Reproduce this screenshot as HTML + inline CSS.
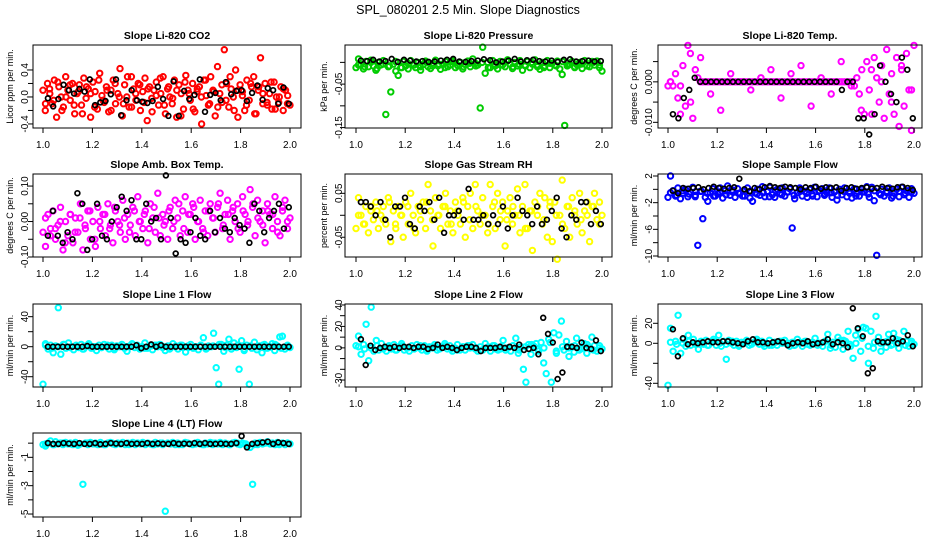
<!DOCTYPE html>
<html><head><meta charset="utf-8"><style>
html,body{margin:0;padding:0;background:#fff}
svg{display:block;font-family:"Liberation Sans",sans-serif}
</style></head><body>
<svg id="chart" width="936" height="540" viewBox="0 0 936 540" xmlns="http://www.w3.org/2000/svg">
<rect width="936" height="540" fill="#fff"/>
<text x="468" y="14" text-anchor="middle" font-size="12.5">SPL_080201  2.5 Min. Slope Diagnostics</text>
</svg>
<script>
// ---- data ----
const xTicks=[1.0,1.2,1.4,1.6,1.8,2.0];
const xTickLabels=["1.0","1.2","1.4","1.6","1.8","2.0"];

const co2Vals=[0.1,-0.2,0.2,0.05,-0.1,0.25,-0.3,0.15,0.0,-0.15,0.3,0.1,-0.05,0.2,-0.25,0.05,0.18,-0.12,0.28,-0.02,0.12,-0.3,0.22,0.08,-0.18,0.35,0.02,-0.08,0.15,-0.22,0.1,0.25,-0.1,0.05,0.42,-0.28,0.18,0.0,-0.15,0.3,0.12,-0.05,0.2,-0.2,0.08,0.28,-0.35,0.15,-0.02,0.1,0.22,-0.12,0.05,0.3,-0.25,0.12,0.0,-0.1,0.25,-0.3,0.18,0.05,-0.18,0.32,0.1,-0.05,0.2,-0.22,0.08,0.15,-0.4,0.25,0.02,-0.12,0.3,0.1,-0.28,0.45,0.05,-0.08,0.7,0.2,-0.15,0.12,0.0,0.4,-0.3,0.18,0.08,-0.2,0.25,-0.05,0.15,0.3,-0.25,0.1,0.58,-0.1,0.2,-0.12,0.05,-0.18,0.22,0.0,-0.08,0.15,-0.2,0.1,0.02,-0.12];
const co2Vals2=[-0.1,0.12,-0.05,0.22,-0.2,0.0,0.18,-0.12,0.08,-0.25,0.15,0.05,-0.15,0.25,-0.05,0.1,-0.2,0.2,0.0,-0.1,0.3,-0.15,0.05,0.18,-0.08,0.12,-0.22,0.02,0.28,-0.12,0.15,-0.02,0.1,-0.28,0.22,0.05,-0.18,0.12,0.0,0.25,-0.1,0.08,-0.15,0.18,-0.05,0.3,-0.2,0.1,0.02,-0.12,0.2,-0.25,0.15,0.05,-0.08,0.22,-0.18,0.0,0.12,-0.1];
const co2Blk=[-0.02,-0.14,-0.03,0.18,0.1,0.05,0.12,0.08,0.26,-0.12,-0.08,-0.06,0.04,0.26,-0.27,-0.05,0.1,-0.05,-0.07,-0.09,-0.06,0.15,-0.03,-0.28,0.23,-0.28,0.09,-0.03,0.03,0.26,-0.22,0.03,0.06,-0.05,0.22,0.04,0.09,0.1,-0.06,0.06,0.17,-0.04,0.13,0.1,-0.1,0.14,-0.1];

const presVals=[-0.012,0.008,-0.005,-0.015,0.002,-0.01,0.005,-0.008,-0.018,0.0,-0.006,0.004,-0.12,-0.01,-0.068,-0.004,-0.02,-0.03,-0.012,0.002,-0.008,-0.015,0.004,-0.006,-0.012,0.0,-0.018,-0.005,0.003,-0.01,-0.014,-0.002,0.005,-0.008,-0.016,-0.004,0.002,-0.01,-0.006,0.004,-0.012,-0.008,0.0,-0.015,-0.005,0.003,-0.01,0.008,-0.002,-0.006,-0.105,0.035,-0.025,0.0,-0.012,0.004,-0.008,-0.015,0.002,-0.006,-0.01,0.006,-0.004,-0.014,0.0,-0.008,0.004,-0.018,-0.006,0.002,-0.012,-0.004,0.006,-0.01,-0.016,0.0,-0.008,0.004,-0.012,-0.002,-0.006,0.003,-0.015,-0.028,-0.145,-0.008,-0.004,0.002,-0.012,-0.006,0.0,-0.014,0.004,-0.008,-0.01,0.002,-0.006,0.003,-0.012,-0.02];
const presVals2=[-0.006,-0.01,0.0,-0.014,-0.004,-0.008,0.002,-0.012,-0.002,-0.006,-0.01,0.0,-0.008,-0.004,-0.012,0.002,-0.006,-0.01,-0.002,-0.008,0.0,-0.012,-0.004,-0.006,0.002,-0.01,-0.004,-0.008,0.0,-0.006,-0.012,-0.002,-0.008,0.002,-0.006,-0.01,-0.004,-0.008,0.0,-0.006];
const presBlk=[0.004,0.003,0.006,0.002,0.003,0.008,0.001,0.006,0.004,0.002,0.003,0.001,0.002,0.004,0.006,0.008,0.002,0.001,0.003,0.004,0.007,0.005,0.0,0.002,0.004,0.008,0.002,0.005,0.006,0.003,0.002,0.004,0.001,0.006,0.007,0.002,0.003,0.004,0.002,0.003];

const tempVals=[-0.001,0.0,-0.001,0.002,-0.004,-0.008,0.004,-0.006,0.009,0.007,-0.009,0.003,0.001,0.0,0.0,0.0,0.0,0.0,0.0,0.0,0.0,0.0,0.0,0.0,0.0,0.0,0.0,0.0,0.0,0.0,0.0,0.0,0.0,0.0,0.0,0.0,0.0,0.0,0.0,0.0,0.0,0.0,0.0,0.0,0.0,0.0,0.0,0.0,0.0,0.0,0.0,0.0,0.0,0.0,0.0,0.0,0.0,0.0,0.0,0.0,0.0,0.0,0.0,0.0,0.0,0.0,0.0,0.0,0.0,0.0,0.0,0.0,0.0,0.0,0.0,-0.001,0.001,-0.003,0.003,-0.008,0.005,-0.002,-0.008,0.006,0.001,-0.005,0.004,-0.009,0.008,-0.003,0.002,-0.008,0.006,-0.011,0.003,-0.006,0.007,-0.002,-0.012,0.009];
const tempVals2=[0.0,-0.001,-0.005,0.006,-0.003,-0.007,0.002,0.0,-0.002,0.001,0.003,-0.004,0.002,0.004,-0.006,0.001,-0.003,0.005,-0.001,-0.007,0.003,0.0,-0.005,0.004,-0.002];
const tempBlk=[-0.008,-0.009,-0.004,-0.002,0.001,0.0,0.0,0.0,0.0,0.0,0.0,0.0,0.0,0.0,0.0,0.0,0.0,0.0,0.0,0.0,0.0,0.0,0.0,0.0,0.0,0.0,0.0,0.0,0.0,0.0,0.0,-0.002,0.0,0.0,-0.009,-0.009,-0.013,-0.008,0.004,0.0,-0.003,-0.005,0.006,0.003,-0.009];

const ambVals=[-0.03,-0.07,0.02,-0.02,0.03,-0.05,-0.01,0.04,-0.08,0.0,-0.04,0.02,-0.06,0.01,-0.03,0.05,-0.08,-0.02,0.03,-0.05,0.0,-0.07,0.04,-0.02,0.02,-0.04,0.05,-0.01,-0.06,0.03,0.0,-0.03,0.06,-0.05,0.02,-0.01,0.04,-0.04,0.07,0.0,-0.02,0.03,-0.06,0.05,0.01,-0.03,0.08,-0.04,0.02,0.0,-0.05,0.04,-0.02,0.06,0.01,-0.04,0.03,0.07,-0.03,0.02,0.05,-0.05,0.0,0.06,-0.02,0.03,-0.04,0.05,0.01,-0.03,0.04,0.08,-0.02,0.02,0.06,-0.05,0.03,0.0,0.05,-0.03,0.07,0.02,-0.01,0.09,0.04,-0.04,0.06,0.0,0.03,-0.06,0.05,0.02,-0.02,0.07,0.0,-0.04,0.03,0.06,-0.02,0.01];
const ambVals2=[0.01,-0.04,-0.02,0.0,-0.06,0.02,-0.03,0.01,-0.01,0.03,-0.05,0.0,0.02,-0.02,0.04,-0.01,0.01,-0.03,0.03,0.0,0.02,-0.02,0.04,0.01,-0.01,0.03,0.0,0.05,-0.02,0.02,0.04,0.0,-0.03,0.03,0.01,0.05,-0.01,0.02,0.04,-0.02,0.03,0.0,0.05,0.01,-0.01,0.03,0.02,-0.03,0.04,0.0];
const ambBlk=[-0.04,0.03,-0.04,-0.06,-0.03,-0.05,0.08,0.05,-0.08,-0.05,0.05,-0.04,-0.05,0.0,0.04,0.07,0.03,0.06,-0.05,-0.05,0.05,0.0,0.01,-0.05,0.13,0.01,-0.09,-0.05,-0.06,-0.03,0.01,-0.04,-0.05,0.03,-0.03,0.01,-0.02,-0.03,0.01,-0.01,-0.02,-0.06,0.05,0.03,-0.03,0.01,0.03,0.05,-0.02,0.04];

const rhVals=[-0.03,0.04,0.0,-0.02,0.02,-0.04,0.01,-0.01,0.03,-0.03,0.0,0.02,-0.02,0.04,-0.06,0.01,-0.03,0.02,0.0,-0.05,0.03,-0.02,0.05,0.0,-0.04,0.02,-0.01,0.03,-0.03,0.07,0.01,-0.07,0.04,0.0,-0.03,0.02,0.05,-0.02,0.01,-0.04,0.03,0.0,-0.02,0.04,-0.05,0.02,0.05,-0.03,0.07,0.01,-0.02,0.04,0.0,-0.04,0.07,0.02,-0.03,0.05,-0.01,0.03,-0.07,0.01,0.04,-0.02,0.0,0.06,-0.04,0.02,0.07,-0.03,0.01,-0.08,0.03,0.0,0.05,-0.02,0.04,-0.05,0.02,-0.06,0.03,-0.1,0.0,0.08,-0.03,0.02,-0.05,0.04,0.0,-0.02,0.05,-0.04,0.01,0.03,-0.06,0.02,0.05,-0.01,0.03,0.0];
const rhVals2=[0.0,-0.02,0.02,0.01,-0.01,0.03,-0.02,0.0,0.02,-0.03,0.01,0.03,-0.01,0.0,0.02,-0.02,0.01,0.03,-0.01,0.02,0.0,-0.02,0.03,0.01,-0.01,0.02,0.0,-0.03,0.01,0.02,-0.01,0.03,0.0,-0.02,0.02,0.01,-0.01,0.0,0.02,-0.02];
const rhBlk=[0.03,0.03,0.02,0.0,0.03,-0.01,-0.05,0.02,0.02,0.04,-0.02,-0.03,0.02,0.01,0.03,-0.01,0.04,-0.04,0.0,0.0,0.01,-0.01,0.06,-0.01,-0.01,0.0,-0.02,0.0,-0.02,0.02,-0.03,0.0,0.04,0.01,0.0,-0.02,0.02,-0.02,-0.01,0.01,0.04,-0.03,-0.05,0.0,-0.01,0.03,0.03,-0.02,0.01,-0.02];

const flowVals=[-1.2,2.0,-0.2,-1.0,0.2,-1.4,-0.6,0.0,-1.1,-0.4,0.3,-0.9,-8.4,-0.3,-4.4,-1.2,-1.8,-0.5,0.1,-1.0,-0.7,0.2,-1.3,-0.2,0.5,-0.9,-0.4,-1.2,0.1,-0.6,-1.0,-0.2,0.2,-1.3,-1.8,-0.5,0.0,-0.9,0.4,-1.1,-0.3,0.3,-0.8,-1.2,0.0,-0.6,0.2,-1.0,-0.4,0.1,-5.8,-1.4,-0.5,0.2,-1.0,-0.3,-1.2,0.0,-0.7,0.3,-1.1,-0.2,0.1,-0.9,-0.5,0.2,-1.2,-0.4,-1.6,0.0,-0.8,0.2,-1.1,-0.3,-1.3,0.1,-0.6,-1.0,0.0,-0.4,0.4,-1.2,0.3,-1.7,-9.9,-0.6,0.0,-1.0,-0.3,0.2,-1.3,-0.5,0.0,-1.1,0.3,-0.8,-0.2,-1.2,0.1,-0.6];
const flowVals2=[-0.5,-0.9,-0.2,-0.7,-1.1,-0.3,-0.6,-1.0,-0.4,-0.8,-0.1,-0.6,-1.0,-0.3,-0.7,-0.5,-1.1,-0.2,-0.8,-0.4,-0.9,-0.3,-0.6,-1.0,-0.2,-0.7,-0.5,-0.9,-0.3,-0.6,-1.0,-0.4,-0.7,-0.2,-0.8,-0.5,-1.0,-0.3,-0.6,-0.4];
const flowBlk=[-0.2,-0.6,0.2,0.1,0.2,0.3,0.0,0.2,0.4,0.2,0.1,0.2,0.3,1.6,0.0,-0.3,0.2,0.0,0.3,0.5,0.3,0.2,0.4,0.3,0.2,0.0,0.3,0.2,0.4,0.1,0.3,0.2,0.3,-0.2,0.2,0.3,0.1,0.2,0.3,0.1,0.2,0.4,0.2,0.1,0.3,0.4,0.2,-0.1];

const l1Vals=[-50,4,-3,2,-8,1,52,-10,3,-2,5,0,-4,2,-1,3,-3,1,4,-2,0,-5,2,-1,3,0,-3,2,-4,1,0,3,-2,-6,1,4,-1,2,-3,0,5,-2,1,-4,2,0,3,-1,-5,1,-2,4,0,-3,2,-1,-7,1,3,-2,0,-4,2,12,-3,1,0,18,-28,-50,3,-6,2,10,-3,5,-1,-30,8,-5,2,-50,-2,6,-4,1,-8,3,-2,0,4,-5,1,13,14,-3,2,-1];
const l1Vals2=[2,-2,0,3,-1,1,-3,2,0,-1,2,-2,1,0,3,-1,-2,1,2,0,-3,1,2,-1,0,2,-2,1,3,-1,0,2,-3,1,0,2,-1,3,-2,0];
const l1Blk=[0,0,0,0,0,0,0,0,1,0,0,0,0,0,0,0,0,0,2,-2,0,3,0,2,0,0,0,0,0,0,0,0,0,0,0,0,0,0,0,0,0,0,0,0,0,0,0,0,0,0];

const l2Vals=[2,11,-6,3,22,-12,38,-3,7,-2,4,0,-3,2,-1,3,-2,1,4,-2,0,-3,2,-1,3,0,-2,2,-3,1,0,3,-2,-1,1,4,-1,2,-3,0,3,-2,1,-2,2,0,3,-1,-3,1,-2,4,0,-3,2,-1,-2,1,7,-2,0,-3,2,9,-5,1,-20,-32,3,-6,2,4,-3,5,-14,-24,8,-32,14,-5,12,25,-2,6,-8,1,-4,9,-2,0,4,-5,1,10,2,-3,2,-1];
const l2Vals2=[1,-1,0,2,-1,1,-2,2,0,-1,2,-2,1,0,2,-1,-2,1,2,0,-2,1,2,-1,0,2,-2,1,3,-1,0,5,-3,1,0,2,-1,3,-2,0];
const l2Blk=[8,-16,2,-2,0,1,0,1,0,1,1,0,1,1,-1,0,3,0,1,0,-2,0,1,1,0,-3,0,0,0,1,0,1,0,3,-2,-1,0,-6,28,13,5,-29,-23,1,1,0,5,0,-1,7,-3];

const l3Vals=[-42,15,-8,2,28,-10,4,-3,8,-2,4,0,-6,2,-1,3,-2,1,4,-2,8,-3,2,-16,3,0,-2,2,-3,1,0,3,-2,-1,1,4,-1,2,-3,0,3,-2,1,-2,2,0,3,-1,-3,1,-2,4,0,-3,2,-1,-2,1,5,-2,0,-3,2,9,-5,1,-4,6,3,-6,2,12,-3,-15,8,14,-8,16,15,-20,12,-5,27,6,-8,1,-4,9,-2,10,4,-5,1,12,2,-3,2,-1];
const l3Vals2=[1,-1,0,2,-1,1,-2,2,0,-1,2,-2,1,0,2,-1,-2,1,2,0,-2,1,2,-1,0,2,-2,1,3,-1,0,5,-3,1,0,2,-1,3,-2,0];
const l3Blk=[14,-13,5,-1,1,0,1,2,1,1,2,2,1,0,-1,2,4,1,1,0,1,2,1,-2,0,1,0,2,-1,0,1,4,-1,1,0,-4,35,15,7,-30,-25,2,1,1,5,0,2,8,-3];

const l4Vals=[-0.1,-0.2,0.0,0.15,-0.1,0.1,-0.05,0.0,-0.1,0.05,-0.05,0.0,-0.1,0.05,-0.15,-0.05,-2.9,0.0,-0.1,0.05,-0.05,0.0,-0.1,0.05,-0.05,-0.1,0.0,0.05,-0.05,-0.1,0.0,-0.05,0.05,-0.1,0.0,-0.05,0.05,-0.1,0.0,-0.05,0.05,-0.1,0.0,-0.05,-0.1,0.05,-0.05,0.0,-0.1,-4.8,0.0,-0.05,0.05,-0.1,0.0,-0.05,-0.1,0.05,0.0,-0.05,-0.1,0.0,0.05,-0.05,-0.1,0.0,-0.05,0.05,-0.1,0.0,-0.05,0.05,-0.1,0.0,-0.05,-0.1,0.0,0.05,-0.05,-0.1,0.0,-0.05,-0.2,-0.3,-2.9,0.0,-0.1,0.05,-0.05,0.0,0.1,-0.05,0.0,-0.1,0.05,-0.05,0.0,-0.1,0.0,-0.05];
const l4Vals2=[-0.05,-0.1,0.0,-0.05,-0.1,0.0,-0.05,-0.1,0.0,-0.05,-0.1,0.0,-0.05,-0.1,0.0,-0.05,-0.1,0.0,-0.05,-0.1,0.0,-0.05,-0.1,0.0,-0.05,-0.1,0.0,-0.05,-0.1,0.0];
const l4Blk=[0,-0.05,-0.05,0,-0.03,-0.05,0,-0.05,-0.05,0,-0.08,-0.05,0,-0.03,-0.05,0,-0.05,-0.03,-0.05,0,-0.05,-0.02,-0.05,-0.05,0,-0.05,-0.03,-0.05,0,-0.05,0,-0.05,-0.05,-0.03,-0.05,-0.05,0,0.5,-0.3,-0.05,0,0.05,0.1,-0.05,0.05,0,-0.05];

// ---- layout ----
const COLS=[{x0:33,x1:301,a:43,b:290,yl:10,tl:25},{x0:345,x1:612,a:356,b:602,yl:324,tl:339},{x0:658,x1:922,a:668,b:914,yl:634,tl:649}];
const ROWS=[{y0:45,y1:128},{y0:174,y1:257},{y0:304,y1:387},{y0:433,y1:517}];
const panels=[
 {id:'co2',title:'Slope Li-820 CO2',ylab:'Licor ppm per min.',col:'#ff0000',v:co2Vals,v2:co2Vals2,k:co2Blk,r:0,c:0,ymin:-0.46,ymax:0.77,ticks:[-0.4,-0.2,0,0.2,0.4],labs:{'-0.4':'-0.4','0':'0.0','0.4':'0.4'}},
 {id:'pressure',title:'Slope Li-820 Pressure',ylab:'kPa per min.',col:'#00cc00',v:presVals,v2:presVals2,k:presBlk,r:0,c:1,ymin:-0.151,ymax:0.04,ticks:[0,-0.05,-0.1,-0.15],labs:{'-0.05':'-0.05','-0.15':'-0.15'}},
 {id:'temp',title:'Slope Li-820 Temp.',ylab:'degrees C per min.',col:'#ff00ff',v:tempVals,v2:tempVals2,k:tempBlk,r:0,c:2,ymin:-0.0114,ymax:0.0091,ticks:[0.005,0,-0.005,-0.01],labs:{'0':'0.000','-0.01':'-0.010'}},
 {id:'amb-temp',title:'Slope Amb. Box Temp.',ylab:'degrees C per min.',col:'#ff00ff',v:ambVals,v2:ambVals2,k:ambBlk,r:1,c:0,ymin:-0.10,ymax:0.134,ticks:[0.1,0.05,0,-0.05,-0.1],labs:{'0.1':'0.10','0':'0.00','-0.1':'-0.10'}},
 {id:'rh',title:'Slope Gas Stream RH',ylab:'percent per min.',col:'#ffff00',v:rhVals,v2:rhVals2,k:rhBlk,r:1,c:1,ymin:-0.095,ymax:0.094,ticks:[0.05,0,-0.05],labs:{'0.05':'0.05','-0.05':'-0.05'}},
 {id:'sample-flow',title:'Slope Sample Flow',ylab:'ml/min per min.',col:'#0000ff',v:flowVals,v2:flowVals2,k:flowBlk,r:1,c:2,ymin:-10.15,ymax:2.3,ticks:[2,0,-2,-4,-6,-8,-10],labs:{'2':'2','-2':'-2','-6':'-6','-10':'-10'}},
 {id:'line1',title:'Slope Line 1 Flow',ylab:'ml/min per min.',col:'#00ffff',v:l1Vals,v2:l1Vals2,k:l1Blk,r:2,c:0,ymin:-53.7,ymax:56.9,ticks:[40,20,0,-20,-40],labs:{'40':'40','0':'0','-40':'-40'}},
 {id:'line2',title:'Slope Line 2 Flow',ylab:'ml/min per min.',col:'#00ffff',v:l2Vals,v2:l2Vals2,k:l2Blk,r:2,c:1,ymin:-36.5,ymax:40.9,ticks:[40,30,20,10,0,-10,-20,-30],labs:{'40':'40','20':'20','0':'0','-30':'-30'}},
 {id:'line3',title:'Slope Line 3 Flow',ylab:'ml/min per min.',col:'#00ffff',v:l3Vals,v2:l3Vals2,k:l3Blk,r:2,c:2,ymin:-43.7,ymax:39.3,ticks:[20,0,-20,-40],labs:{'20':'20','0':'0','-40':'-40'}},
 {id:'line4',title:'Slope Line 4 (LT) Flow',ylab:'ml/min per min.',col:'#00ffff',v:l4Vals,v2:l4Vals2,k:l4Blk,r:3,c:0,ymin:-5.21,ymax:0.716,ticks:[0,-1,-2,-3,-4,-5],labs:{'-1':'-1','-3':'-3','-5':'-5'}}
];

const NS='http://www.w3.org/2000/svg';
const svg=document.getElementById('chart');
function mk(tag,attrs,parent){const e=document.createElementNS(NS,tag);for(const k in attrs)e.setAttribute(k,attrs[k]);(parent||svg).appendChild(e);return e;}

panels.forEach(p=>{
  const C=COLS[p.c],R=ROWS[p.r];
  const g=mk('g',{});
  
  
  const xs=v=>C.a+(v-1)*(C.b-C.a);
  const ys=v=>R.y1-(v-p.ymin)/(p.ymax-p.ymin)*(R.y1-R.y0);
  const t=mk('text',{x:(C.x0+C.x1)/2,y:R.y0-6,'text-anchor':'middle','font-size':'10.5','font-weight':'bold'},g);
  t.textContent=p.title;
  
  
  const pg=mk('g',{fill:'none'},g);
  
  
  const drawSeries=(arr,x0,x1,color,nm,rad,sw)=>{
    arr.forEach((v,i)=>{
      const xv=x0+(arr.length>1?i/(arr.length-1):0)*(x1-x0);
      const c=mk('circle',{cx:xs(xv).toFixed(1),cy:ys(v).toFixed(1),r:rad,stroke:color,'stroke-width':sw},pg);
      
      
    });
  };
  drawSeries(p.v,1.0,2.0,p.col,'point-'+p.id,'2.7','2');
  drawSeries(p.v2,1.01,1.99,p.col,'point-'+p.id,'2.7','2');
  drawSeries(p.k,1.02,1.995,'#000','point-black-'+p.id,'2.4','1.7');
  const b=mk('rect',{x:C.x0,y:R.y0,width:C.x1-C.x0,height:R.y1-R.y0,fill:'none',stroke:'#000','stroke-width':'1'},g);
  
  
  const showX=!(p.r===3&&p.c!==0);
  mk('line',{x1:xs(1),x2:xs(2),y1:R.y1,y2:R.y1,stroke:'#000'},g);
  xTicks.forEach((tv,i)=>{
    mk('line',{x1:xs(tv),x2:xs(tv),y1:R.y1,y2:R.y1+5,stroke:'#000'},g);
    if(showX){const tl=mk('text',{x:xs(tv),y:R.y1+20,'text-anchor':'middle','font-size':'10'},g);
      tl.textContent=xTickLabels[i];
      
      }
  });
  const yt=p.ticks;
  mk('line',{x1:C.x0,x2:C.x0,y1:ys(Math.max(...yt)),y2:ys(Math.min(...yt)),stroke:'#000'},g);
  yt.forEach(tv=>{
    const y=ys(tv);
    mk('line',{x1:C.x0-5,x2:C.x0,y1:y,y2:y,stroke:'#000'},g);
    const lab=p.labs[String(tv)];
    if(lab!==undefined){
      const tl=mk('text',{x:C.tl,y:y,'text-anchor':'middle','font-size':'10',transform:`rotate(-90 ${C.tl} ${y})`,dy:'3'},g);
      tl.textContent=lab;
      
      
    }
  });
  const yc=(R.y0+R.y1)/2;
  const yl=mk('text',{x:C.yl,y:yc,'text-anchor':'middle','font-size':'9',transform:`rotate(-90 ${C.yl} ${yc})`,dy:'3'},g);
  yl.textContent=p.ylab;
  
  
});
</script>
</body></html>
